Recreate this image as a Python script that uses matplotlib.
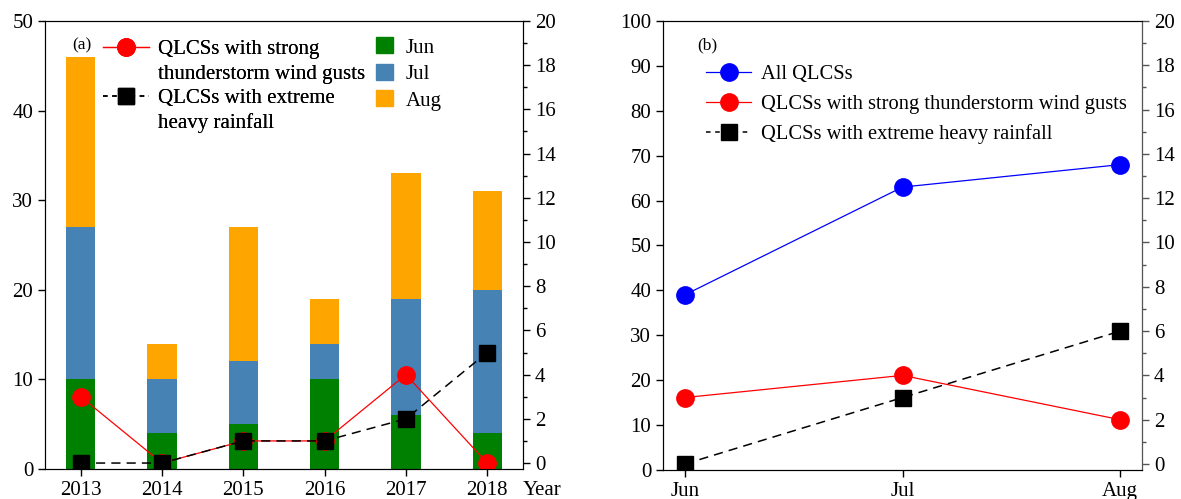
import matplotlib.pyplot as plt
from matplotlib.lines import Line2D
from matplotlib.patches import Patch
from matplotlib.ticker import MultipleLocator

plt.rcParams['font.family'] = ['Liberation Serif', 'DejaVu Serif']
plt.rcParams['font.size'] = 15

years = ['2013', '2014', '2015', '2016', '2017', '2018']
jun = [10, 4, 5, 10, 6, 4]
jul = [17, 6, 7, 4, 13, 16]
aug = [19, 4, 15, 5, 14, 11]
gusts_year = [3, 0, 1, 1, 4, 0]
rain_year = [0, 0, 1, 1, 2, 5]

months = ['Jun', 'Jul', 'Aug']
all_month = [39, 63, 68]
gusts_month = [3, 4, 2]
rain_month = [0, 3, 6]

c_jun, c_jul, c_aug = '#008000', '#4682b4', '#ffa500'

fig = plt.figure(figsize=(11.81, 4.99), dpi=100)
ax1 = fig.add_axes([0.0381, 0.0601, 0.4047, 0.898])
ax2 = fig.add_axes([0.5614, 0.0581, 0.4056, 0.900])


def style_axes(ax, tw):
    for a in (ax, tw):
        a.tick_params(direction='out', length=5, width=1, labelsize=15)
        a.tick_params(which='minor', direction='out', length=3, width=1)
    tw.set_ylim(-0.27, 20)
    tw.yaxis.set_major_locator(MultipleLocator(2))
    tw.yaxis.set_minor_locator(MultipleLocator(1))


# (a) monthly counts stacked per year
x = list(range(len(years)))
w = 0.36
bot2 = [a + b for a, b in zip(jun, jul)]
ax1.bar(x, jun, w, color=c_jun)
ax1.bar(x, jul, w, bottom=jun, color=c_jul)
ax1.bar(x, aug, w, bottom=bot2, color=c_aug)
ax1.set_xlim(-0.44, 5.44)
ax1.set_ylim(0, 50)
ax1.set_xticks(x)
ax1.set_xticklabels(years)
ax1.yaxis.set_major_locator(MultipleLocator(10))

tw1 = ax1.twinx()
tw1.plot(x, gusts_year, '-o', color='red', lw=0.9, ms=12.5)
tw1.plot(x, rain_year, '--s', color='black', lw=1.1, ms=11, dashes=(6, 4))
style_axes(ax1, tw1)

ax1.annotate('Year', xy=(1, 0), xycoords='axes fraction', xytext=(0, -8.5),
             textcoords='offset points', ha='left', va='top', fontsize=15)
ax1.text(0.057, 0.945, '(a)', transform=ax1.transAxes, fontsize=12.5,
         ha='left', va='center')

line_handles = [
    Line2D([], [], color='red', marker='o', lw=0.9, ms=12.5),
    Line2D([], [], color='none'),
    Line2D([], [], color='black', marker='s', ls='--', lw=1.1, ms=11, dashes=(3, 3)),
    Line2D([], [], color='none'),
]
line_labels = ['QLCSs with strong', 'thunderstorm wind gusts',
               'QLCSs with extreme', 'heavy rainfall']
leg1 = tw1.legend(line_handles, line_labels, loc='upper left',
                  bbox_to_anchor=(0.121, 0.958), frameon=False, borderpad=0,
                  borderaxespad=0, handlelength=2.2, handletextpad=0.45,
                  labelspacing=0.24, fontsize=15)

bar_handles = [Patch(color=c_jun), Patch(color=c_jul), Patch(color=c_aug)]
tw1.add_artist(leg1)
ax1.legend(bar_handles, months, loc='upper left', bbox_to_anchor=(0.693, 0.963),
           frameon=False, borderpad=0, borderaxespad=0, handlelength=0.8,
           handleheight=0.8, handletextpad=0.6, labelspacing=0.3, fontsize=15)

# (b) totals per month
xm = list(range(len(months)))
ax2.plot(xm, all_month, '-o', color='blue', lw=0.9, ms=12.5)
ax2.set_xlim(-0.1, 2.1)
ax2.set_ylim(0, 100)
ax2.set_xticks(xm)
ax2.set_xticklabels(months)
ax2.yaxis.set_major_locator(MultipleLocator(10))

tw2 = ax2.twinx()
tw2.plot(xm, gusts_month, '-o', color='red', lw=0.9, ms=12.5)
tw2.plot(xm, rain_month, '--s', color='black', lw=1.1, ms=11, dashes=(6, 4))
style_axes(ax2, tw2)
tw2.spines['right'].set_color('#555555')
tw2.tick_params(axis='y', which='both', color='#555555')

ax2.text(0.072, 0.945, '(b)', transform=ax2.transAxes, fontsize=12.5,
         ha='left', va='center')

b_handles = [
    Line2D([], [], color='blue', marker='o', lw=0.9, ms=12.5),
    Line2D([], [], color='red', marker='o', lw=0.9, ms=12.5),
    Line2D([], [], color='black', marker='s', ls='--', lw=1.1, ms=11, dashes=(3, 3)),
]
b_labels = ['All QLCSs', 'QLCSs with strong thunderstorm wind gusts',
            'QLCSs with extreme heavy rainfall']
tw2.legend(b_handles, b_labels, loc='upper left', bbox_to_anchor=(0.09, 0.902),
           frameon=False, borderpad=0, borderaxespad=0, handlelength=2.2,
           handletextpad=0.45, labelspacing=0.5, fontsize=14.8)

fig.savefig('out.png', dpi=100)
